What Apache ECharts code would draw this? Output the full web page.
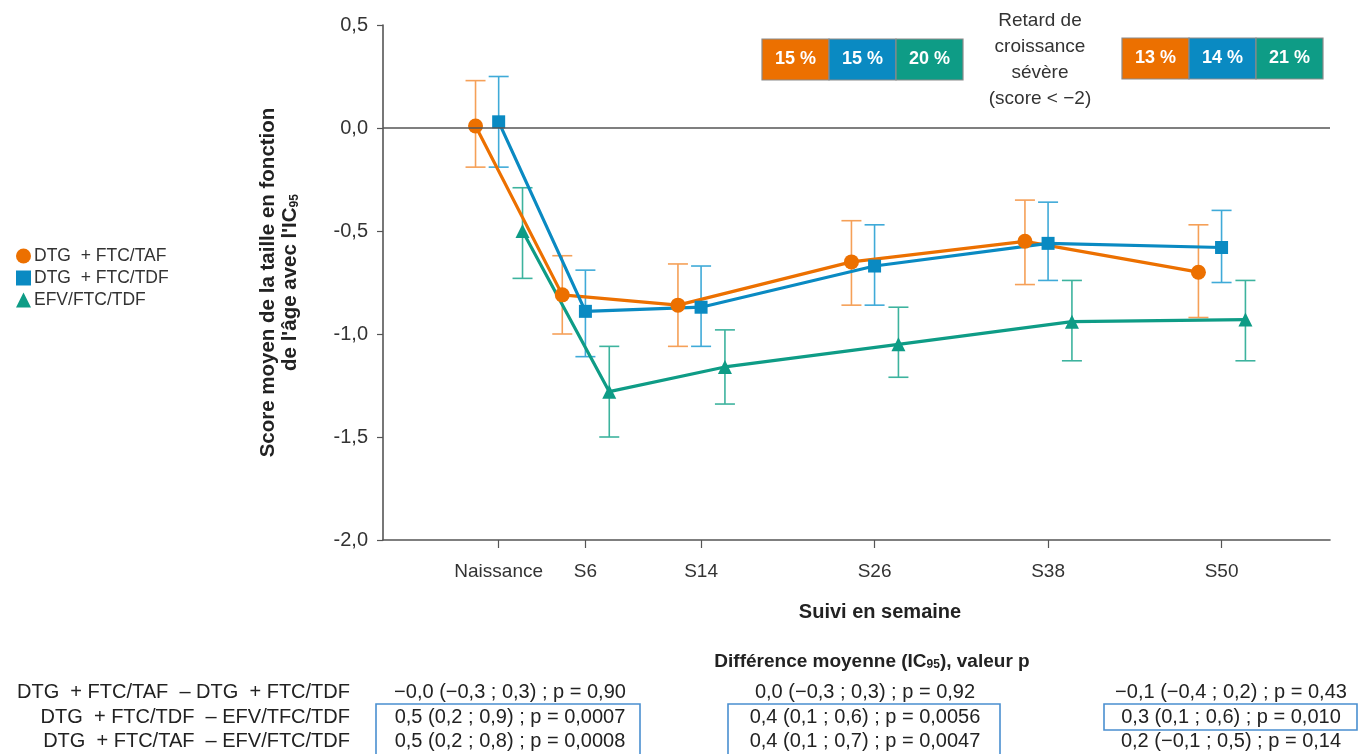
<!DOCTYPE html>
<html>
<head>
<meta charset="utf-8">
<script src="https://cdn.jsdelivr.net/npm/echarts@6/dist/echarts.min.js"></script>
<style>
html,body{margin:0;padding:0;background:#fff;}
#chart{width:1361px;height:754px;}
</style>
</head>
<body>
<div id="chart"></div>
<script>
// ---- data ----
const weeks = [0, 6, 14, 26, 38, 50];
const weekLabels = ['Naissance', 'S6', 'S14', 'S26', 'S38', 'S50'];
const seriesNames = ['DTG  + FTC/TAF', 'DTG  + FTC/TDF', 'EFV/FTC/TDF'];

const tafMean = [0.01, -0.81, -0.86, -0.65, -0.55, -0.70];
const tafLow  = [-0.19, -1.00, -1.06, -0.86, -0.76, -0.92];
const tafHigh = [0.23, -0.62, -0.66, -0.45, -0.35, -0.47];

const tdfMean = [0.03, -0.89, -0.87, -0.67, -0.56, -0.58];
const tdfLow  = [-0.19, -1.11, -1.06, -0.86, -0.74, -0.75];
const tdfHigh = [0.25, -0.69, -0.67, -0.47, -0.36, -0.40];

const efvMean = [-0.50, -1.28, -1.16, -1.05, -0.94, -0.93];
const efvLow  = [-0.73, -1.50, -1.34, -1.21, -1.13, -1.13];
const efvHigh = [-0.29, -1.06, -0.98, -0.87, -0.74, -0.74];

const severeLeft = ['15 %', '15 %', '20 %'];
const severeRight = ['13 %', '14 %', '21 %'];
const severeTitle = ['Retard de', 'croissance', 'sévère', '(score < −2)'];

const diffRowLabels = [
  'DTG  + FTC/TAF  – DTG  + FTC/TDF',
  'DTG  + FTC/TDF  – EFV/TFC/TDF',
  'DTG  + FTC/TAF  – EFV/FTC/TDF'
];
const diffCol1 = ['−0,0 (−0,3 ; 0,3) ; p = 0,90', '0,5 (0,2 ; 0,9) ; p = 0,0007', '0,5 (0,2 ; 0,8) ; p = 0,0008'];
const diffCol2 = ['0,0 (−0,3 ; 0,3) ; p = 0,92', '0,4 (0,1 ; 0,6) ; p = 0,0056', '0,4 (0,1 ; 0,7) ; p = 0,0047'];
const diffCol3 = ['−0,1 (−0,4 ; 0,2) ; p = 0,43', '0,3 (0,1 ; 0,6) ; p = 0,010', '0,2 (−0,1 ; 0,5) ; p = 0,14'];

// ---- styles ----
const FONT = "'Liberation Sans', Arial, sans-serif";
const colors = ['#ec7000', '#0a8ac2', '#0e9c86'];
const barColors = ['#f5a058', '#3faad8', '#3db39e'];
const offsets = [-1.6, 0, 1.65];
const symbols = ['circle', 'rect', 'triangle'];
const symbolSizes = [15, 13, 14];
const means = [tafMean, tdfMean, efvMean];
const lows = [tafLow, tdfLow, efvLow];
const highs = [tafHigh, tdfHigh, efvHigh];

const chart = echarts.init(document.getElementById('chart'));

const series = [];
// error bars
for (let s = 0; s < 3; s++) {
  series.push({
    type: 'custom',
    name: seriesNames[s] + ' IC',
    z: 2,
    silent: true,
    encode: { x: 0, y: [1, 2] },
    data: weeks.map((w, i) => [w + offsets[s], lows[s][i], highs[s][i]]),
    renderItem: (function (col) {
      return function (params, api) {
        const x = api.value(0);
        const top = api.coord([x, api.value(2)]);
        const bot = api.coord([x, api.value(1)]);
        const hw = 10;
        const st = { stroke: col, lineWidth: 1.6 };
        return {
          type: 'group',
          children: [
            { type: 'line', shape: { x1: top[0], y1: top[1], x2: bot[0], y2: bot[1] }, style: st },
            { type: 'line', shape: { x1: top[0] - hw, y1: top[1], x2: top[0] + hw, y2: top[1] }, style: st },
            { type: 'line', shape: { x1: bot[0] - hw, y1: bot[1], x2: bot[0] + hw, y2: bot[1] }, style: st }
          ]
        };
      };
    })(barColors[s])
  });
}
// lines
for (let s = 0; s < 3; s++) {
  const ser = {
    type: 'line',
    name: seriesNames[s],
    z: 3,
    data: weeks.map((w, i) => [w + offsets[s], means[s][i]]),
    symbol: symbols[s],
    symbolSize: symbolSizes[s],
    showAllSymbol: true,
    itemStyle: { color: colors[s] },
    lineStyle: { color: colors[s], width: 3.2 },
    emphasis: { disabled: true },
    animation: false
  };
  if (s === 0) {
    ser.markLine = {
      silent: true,
      symbol: 'none',
      label: { show: false },
      lineStyle: { color: '#555', width: 1.6, type: 'solid' },
      data: [{ yAxis: 0 }],
      animation: false
    };
  }
  series.push(ser);
}

// graphics
const graphic = [];
const boxW = 67, boxH = 41;
function addBoxes(x0, y0, labels) {
  for (let i = 0; i < 3; i++) {
    graphic.push({
      type: 'rect',
      shape: { x: x0 + i * boxW, y: y0, width: boxW, height: boxH },
      style: { fill: colors[i], stroke: '#8a8a8a', lineWidth: 1.2 }
    });
    graphic.push({
      type: 'text',
      x: x0 + i * boxW + boxW / 2, y: y0 + boxH / 2,
      style: { text: labels[i], fill: '#fff', font: 'bold 18px ' + FONT, align: 'center', verticalAlign: 'middle' }
    });
  }
}
addBoxes(762, 39, severeLeft);
addBoxes(1122, 38, severeRight);
graphic.push({
  type: 'text', x: 1040, y: 8,
  style: { text: severeTitle.join('\n'), fill: '#333', font: '19px ' + FONT, align: 'center', verticalAlign: 'top', lineHeight: 26 }
});
// x-axis title
graphic.push({
  type: 'text', x: 880, y: 612,
  style: { text: 'Suivi en semaine', fill: '#222', font: 'bold 20px ' + FONT, align: 'center', verticalAlign: 'middle' }
});
// difference title
graphic.push({
  type: 'text', x: 872, y: 660,
  style: {
    text: '{b|Différence moyenne (IC}{s|95}{b|), valeur p}',
    align: 'center', verticalAlign: 'middle',
    rich: {
      b: { font: 'bold 19px ' + FONT, fill: '#222', verticalAlign: 'bottom', lineHeight: 22 },
      s: { font: 'bold 12px ' + FONT, fill: '#222', verticalAlign: 'bottom', lineHeight: 18 }
    }
  }
});
const rowY = [692, 717, 741];
const TF = '20px ' + FONT;
for (let r = 0; r < 3; r++) {
  graphic.push({ type: 'text', x: 350, y: rowY[r], style: { text: diffRowLabels[r], fill: '#222', font: TF, align: 'right', verticalAlign: 'middle' } });
  graphic.push({ type: 'text', x: 510, y: rowY[r], style: { text: diffCol1[r], fill: '#222', font: TF, align: 'center', verticalAlign: 'middle' } });
  graphic.push({ type: 'text', x: 865, y: rowY[r], style: { text: diffCol2[r], fill: '#222', font: TF, align: 'center', verticalAlign: 'middle' } });
  graphic.push({ type: 'text', x: 1231, y: rowY[r], style: { text: diffCol3[r], fill: '#222', font: TF, align: 'center', verticalAlign: 'middle' } });
}
// highlight boxes
graphic.push({ type: 'rect', shape: { x: 376, y: 704, width: 264, height: 60 }, style: { fill: 'none', stroke: '#4a8fd0', lineWidth: 1.6 } });
graphic.push({ type: 'rect', shape: { x: 728, y: 704, width: 272, height: 60 }, style: { fill: 'none', stroke: '#4a8fd0', lineWidth: 1.6 } });
graphic.push({ type: 'rect', shape: { x: 1104, y: 704, width: 253, height: 26 }, style: { fill: 'none', stroke: '#4a8fd0', lineWidth: 1.6 } });

const option = {
  animation: false,
  backgroundColor: '#fff',
  textStyle: { fontFamily: FONT },
  grid: { left: 383, right: 31, top: 25, bottom: 214, containLabel: false },
  legend: {
    orient: 'vertical',
    left: 11,
    top: 242,
    itemGap: 4,
    itemWidth: 15,
    itemHeight: 15,
    selectedMode: false,
    textStyle: { fontSize: 17.5, color: '#333', fontFamily: FONT, padding: [0, 0, 0, -2] },
    data: seriesNames.map((n, i) => ({ name: n, icon: symbols[i], itemStyle: { color: colors[i] } }))
  },
  xAxis: {
    type: 'value',
    min: -8,
    max: 57.5,
    splitLine: { show: false },
    axisLine: { show: true, onZero: false, lineStyle: { color: '#555', width: 1.6 } },
    axisTick: { show: true, length: 8, lineStyle: { color: '#555', width: 1.2 }, customValues: weeks },
    axisLabel: {
      margin: 22,
      color: '#333',
      fontSize: 19,
      customValues: weeks,
      formatter: function (v) { const i = weeks.indexOf(v); return i >= 0 ? weekLabels[i] : ''; }
    }
  },
  yAxis: {
    type: 'value',
    min: -2,
    max: 0.5,
    interval: 0.5,
    splitLine: { show: false },
    axisLine: { show: true, onZero: false, lineStyle: { color: '#555', width: 1.6 } },
    axisTick: { show: true, length: 6, lineStyle: { color: '#555', width: 1.2 } },
    axisLabel: {
      margin: 15,
      color: '#333',
      fontSize: 20,
      formatter: function (v) { return v.toFixed(1).replace('.', ','); }
    },
    name: '{b|Score moyen de la taille en fonction}\n{b|de l\'âge avec l\'IC}{s|95}',
    nameLocation: 'middle',
    nameRotate: 90,
    nameGap: 82,
    nameTextStyle: {
      align: 'center',
      rich: {
        b: { fontSize: 20.5, fontWeight: 'bold', color: '#222', fontFamily: FONT, lineHeight: 22, verticalAlign: 'bottom' },
        s: { fontSize: 12, fontWeight: 'bold', color: '#222', fontFamily: FONT, lineHeight: 18, verticalAlign: 'bottom' }
      }
    }
  },
  series: series,
  graphic: graphic
};
chart.setOption(option);
</script>
</body>
</html>
